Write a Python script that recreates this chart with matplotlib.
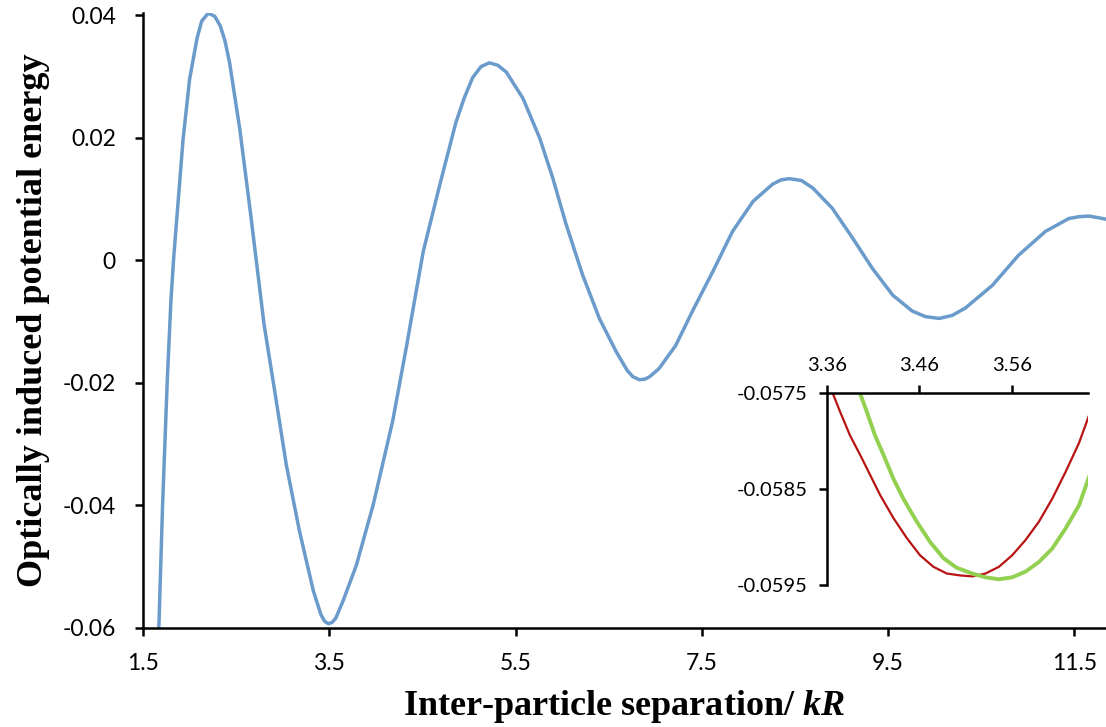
import matplotlib
matplotlib.use("Agg")
import matplotlib.pyplot as plt

# main curve
blue_x = [1.67, 1.71, 1.76, 1.80, 1.83, 1.88, 1.93, 2.00, 2.08, 2.13, 2.20, 2.27, 2.33, 2.38,
          2.43, 2.54, 2.65, 2.74, 2.80, 2.90, 3.04, 3.18, 3.33, 3.41, 3.45, 3.49, 3.53, 3.57,
          3.65, 3.79, 3.97, 4.18, 4.33, 4.42, 4.51, 4.69, 4.86, 4.95, 5.04, 5.13, 5.22, 5.31,
          5.40, 5.58, 5.76, 5.90, 6.04, 6.22, 6.40, 6.58, 6.70, 6.76, 6.83, 6.89, 6.94, 7.04,
          7.22, 7.40, 7.62, 7.83, 8.05, 8.26, 8.35, 8.44, 8.57, 8.69, 8.90, 9.12, 9.33, 9.55,
          9.76, 9.90, 10.05, 10.19, 10.33, 10.62, 10.90, 11.19, 11.44, 11.55, 11.66, 11.84]
blue_y = [-0.0600, -0.0400, -0.0198, -0.0065, 0.0005, 0.0101, 0.0197, 0.0295, 0.0362, 0.0390,
          0.0403, 0.0398, 0.0382, 0.0358, 0.0322, 0.0213, 0.0082, -0.0030, -0.0105, -0.0200,
          -0.0335, -0.0442, -0.0540, -0.0578, -0.0589, -0.0593, -0.0591, -0.0584, -0.0555,
          -0.0498, -0.0400, -0.0263, -0.0140, -0.0062, 0.0015, 0.0125, 0.0225, 0.0265, 0.0298,
          0.0316, 0.0322, 0.0318, 0.0307, 0.0264, 0.0199, 0.0134, 0.0060, -0.0024, -0.0095,
          -0.0149, -0.0180, -0.0190, -0.0195, -0.0194, -0.0190, -0.0177, -0.0139, -0.0083,
          -0.0018, 0.0047, 0.0096, 0.0124, 0.0131, 0.0133, 0.0130, 0.0118, 0.0085, 0.0036,
          -0.0013, -0.0057, -0.0083, -0.0092, -0.0095, -0.0090, -0.0078, -0.0041, 0.0008,
          0.0047, 0.0068, 0.0071, 0.0072, 0.0067]

# inset curves
red_x = [3.3665, 3.3743, 3.3851, 3.3959, 3.4067, 3.4175, 3.4318, 3.4463, 3.4606, 3.4750, 3.4894,
         3.5038, 3.5168, 3.5312, 3.5456, 3.5599, 3.5744, 3.5887, 3.6031, 3.6175, 3.6319, 3.6462]
red_y = [-0.05750, -0.05769, -0.05794, -0.05814, -0.05835, -0.05856, -0.05880, -0.05901,
         -0.05919, -0.05931, -0.05938, -0.05940, -0.05941, -0.05938, -0.05931, -0.05919,
         -0.05903, -0.05884, -0.05860, -0.05832, -0.05802, -0.05764]
green_x = [3.3959, 3.4031, 3.4121, 3.4211, 3.4318, 3.4426, 3.4571, 3.4714, 3.4858, 3.5002,
           3.5168, 3.5312, 3.5456, 3.5599, 3.5744, 3.5887, 3.6031, 3.6175, 3.6319, 3.6462]
green_y = [-0.05750, -0.05769, -0.05794, -0.05814, -0.05839, -0.05860, -0.05884, -0.05905,
           -0.05922, -0.05932, -0.05938, -0.05942, -0.05944, -0.05942, -0.05936, -0.05926,
           -0.05912, -0.05891, -0.05867, -0.05828]

x_ticks = [1.5, 3.5, 5.5, 7.5, 9.5, 11.5]
y_ticks = [-0.06, -0.04, -0.02, 0, 0.02, 0.04]
y_labels = ['-0.06', '-0.04', '-0.02', '0', '0.02', '0.04']
ix_ticks = [3.36, 3.46, 3.56]
iy_ticks = [-0.0595, -0.0585, -0.0575]

plt.rcParams['font.family'] = ['Lato', 'DejaVu Sans']
plt.rcParams['mathtext.fontset'] = 'custom'
plt.rcParams['mathtext.it'] = 'Liberation Serif:italic:bold'
plt.rcParams['mathtext.rm'] = 'Liberation Serif:bold'

fig = plt.figure(figsize=(11.06, 7.27), dpi=100)
ax = fig.add_axes([0.1293, 0.1362, 0.8707, 0.8465])
ax.plot(blue_x, blue_y, color='#6a9bcb', linewidth=2.5, solid_joinstyle='round')
ax.set_xlim(1.5, 11.84)
ax.set_ylim(-0.06, 0.0404)
for s in ['top', 'right']:
    ax.spines[s].set_visible(False)
for s in ['left', 'bottom']:
    ax.spines[s].set_linewidth(1.8)
ax.set_xticks(x_ticks)
ax.set_xticklabels([str(v) for v in x_ticks])
ax.set_yticks(y_ticks)
ax.set_yticklabels(y_labels)
ax.tick_params(direction='out', length=6, width=1.8, labelsize=16.5)
ax.tick_params(axis='y', pad=13.5)
ax.tick_params(axis='x', pad=12)
ax.set_xlabel(r'Inter-particle separation/ $kR$', family='Liberation Serif',
              fontweight='bold', fontsize=26, labelpad=10)
ax.set_ylabel('Optically induced potential energy', family='Liberation Serif',
              fontweight='bold', fontsize=26, labelpad=9)

ins = fig.add_axes([0.7475, 0.1953, 0.2365, 0.2637])
ins.plot(red_x, red_y, color='#b81414', linewidth=1.6)
ins.plot(green_x, green_y, color='#92d050', linewidth=2.8)
ins.set_xlim(3.36, 3.642)
ins.set_ylim(-0.0595, -0.0575)
for s in ['bottom', 'right']:
    ins.spines[s].set_visible(False)
for s in ['left', 'top']:
    ins.spines[s].set_linewidth(1.8)
ins.xaxis.tick_top()
ins.set_xticks(ix_ticks)
ins.set_xticklabels(['3.36', '3.46', '3.56'])
ins.set_yticks(iy_ticks)
ins.set_yticklabels(['-0.0595', '-0.0585', '-0.0575'])
ins.tick_params(direction='out', length=6, width=1.8, labelsize=14.5, pad=8)
ins.patch.set_alpha(0)

fig.savefig('out.png', dpi=100)
